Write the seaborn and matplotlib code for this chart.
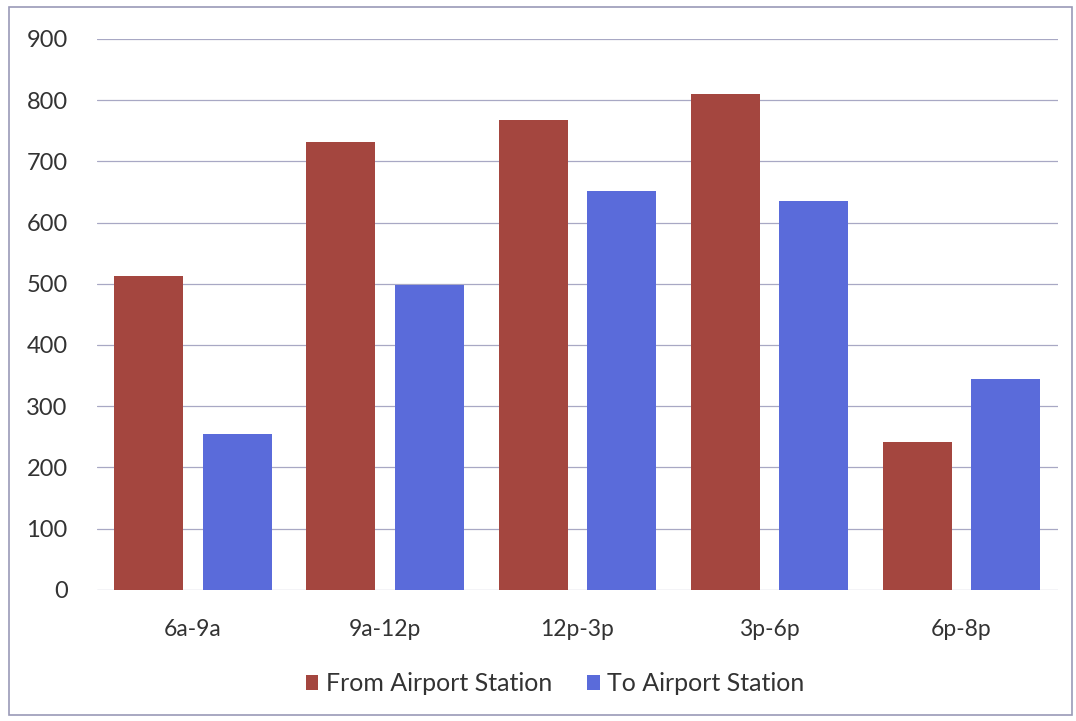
import numpy as np
import pandas as pd
import matplotlib
matplotlib.use("Agg")
import matplotlib.pyplot as plt
import seaborn as sns
from matplotlib.patches import Rectangle

# data
periods = ["6a-9a", "9a-12p", "12p-3p", "3p-6p", "6p-8p"]
from_airport = [513, 732, 768, 810, 242]
to_airport = [255, 498, 652, 636, 345]
series_names = ["From Airport Station", "To Airport Station"]
y_ticks = [0, 100, 200, 300, 400, 500, 600, 700, 800, 900]

df = pd.DataFrame({
    "period": periods * 2,
    "value": from_airport + to_airport,
    "series": [series_names[0]] * len(periods) + [series_names[1]] * len(periods),
})

sns.set_theme(style="white")
plt.rcParams['font.family'] = ['Lato', 'DejaVu Sans']

fig = plt.figure(figsize=(10.76, 7.21), dpi=100)
ax = fig.add_axes([0.090, 0.182, 0.893, 0.764])

# outer frame of the chart
fig.patches.append(Rectangle((0.008, 0.008), 0.988, 0.982, transform=fig.transFigure,
                             fill=False, edgecolor="#9a9ab8", linewidth=1.2))

palette = {series_names[0]: "#a4463f", series_names[1]: "#5a6bda"}
sns.barplot(data=df, x="period", y="value", hue="series", palette=palette,
            width=0.92, gap=0.22, saturation=1, linewidth=0, ax=ax, legend=True)

ax.set_ylim(0, 900)
ax.set_yticks(y_ticks)
ax.set_xlim(-0.5, len(periods) - 0.5)
ax.yaxis.grid(True, color="#a8a8c4", linewidth=0.9)
ax.set_axisbelow(True)
for s in ax.spines.values():
    s.set_visible(False)
ax.tick_params(axis="both", length=0, colors="#333333")
ax.tick_params(axis="y", pad=21, labelsize=17)
ax.tick_params(axis="x", pad=21, labelsize=16.5)
ax.set_xlabel("")
ax.set_ylabel("")

ax.legend(loc="center", bbox_to_anchor=(0.477, -0.171), ncol=2, frameon=False,
          fontsize=18, handlelength=0.5, handleheight=0.5, handletextpad=0.3,
          columnspacing=1.4, labelcolor="#333333")

fig.savefig("out.png", dpi=100)
